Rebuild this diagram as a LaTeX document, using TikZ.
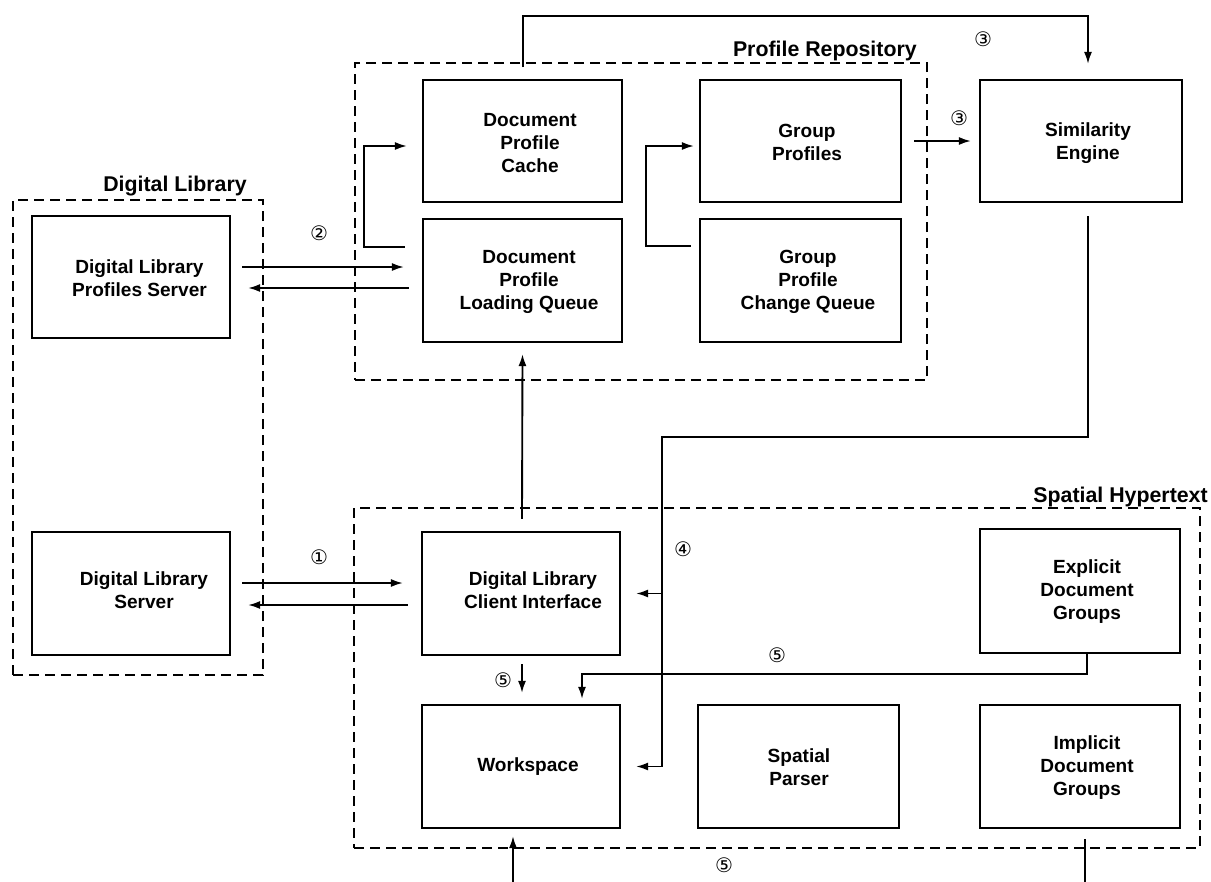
\documentclass[tikz,border=0pt]{standalone}
\usepackage{fontspec}
\setmainfont{Liberation Sans}
\newfontfamily\circfont{DejaVu Sans}
\usetikzlibrary{arrows.meta,calc}
\begin{document}
\begin{tikzpicture}[x=0.75pt,y=-0.75pt,
  px/.style 2 args={minimum width=#1*0.75pt, minimum height=#2*0.75pt},
  box/.style={draw, line width=1.6pt, inner sep=0pt},
  group/.style={draw, line width=1.5pt, dash pattern=on 7.5pt off 4.5pt, inner sep=0pt},
  boxtext/.style={font=\bfseries\fontsize{14.3}{17.25}\selectfont, align=center, inner sep=0pt},
  grouptitle/.style={font=\bfseries\fontsize{16}{19}\selectfont, inner sep=0pt},
  num/.style={font=\circfont\fontsize{15}{17}\selectfont, inner sep=0pt},
  wire/.style={line width=1.4pt},
  arr/.style={wire, -{Latex[length=9pt,width=6pt]}},
]
\fill[white] (0,0) rectangle (1211,882);
\useasboundingbox (0,0) rectangle (1211,882);

% dashed subsystem frames
\node[group, px={250}{475}] (dl) at (138,437.5) {};
\node[group, px={572}{317}] (pr) at (641,221.5) {};
\node[group, px={846}{340}] (sh) at (777,678) {};

\node[grouptitle, anchor=base] (dl-t) at (175,191) {Digital Library};
\node[grouptitle, anchor=base east] (pr-t) at (917,56) {Profile Repository};
\node[grouptitle, anchor=base east] (sh-t) at (1208,502) {Spatial Hypertext};

% components
\node[box, px={198}{122}] (dlps) at (131,277) {};
\node[box, px={198}{123}] (dls) at (131,593.5) {};
\node[box, px={199}{122}] (dpc) at (522.5,141) {};
\node[box, px={199}{123}] (dplq) at (522.5,280.5) {};
\node[box, px={201}{122}] (gp) at (800.5,141) {};
\node[box, px={201}{123}] (gpcq) at (800.5,280.5) {};
\node[box, px={202}{122}] (sim) at (1081,141) {};
\node[box, px={198}{123}] (dlci) at (521,593.5) {};
\node[box, px={198}{123}] (ws) at (521,766.5) {};
\node[box, px={201}{123}] (sp) at (798.5,766.5) {};
\node[box, px={200}{124}] (edg) at (1080,591) {};
\node[box, px={200}{123}] (idg) at (1080,766.5) {};

% component labels
\node[boxtext] (dlps-l) at ([shift={(8.5,1.5)}]dlps.center) {Digital Library\\Profiles Server};
\node[boxtext] (dls-l) at ([shift={(13,-3)}]dls.center) {Digital Library\\Server};
\node[boxtext] (dpc-l) at ([shift={(7.5,2)}]dpc.center) {Document\\Profile\\Cache};
\node[boxtext] (dplq-l) at ([shift={(6.5,1.5)}]dplq.center) {Document\\Profile\\Loading Queue};
\node[boxtext] (gp-l) at ([shift={(6.5,1.5)}]gp.center) {Group\\Profiles};
\node[boxtext] (gpcq-l) at ([shift={(7.5,1.5)}]gpcq.center) {Group\\Profile\\Change Queue};
\node[boxtext] (sim-l) at ([shift={(7,2)}]sim.center) {Similarity\\Engine};
\node[boxtext] (dlci-l) at ([shift={(12,-3.5)}]dlci.center) {Digital Library\\Client Interface};
\node[boxtext] (ws-l) at ([shift={(7,0.5)}]ws.center) {Workspace};
\node[boxtext] (sp-l) at ([shift={(0.5,0.5)}]sp.center) {Spatial\\Parser};
\node[boxtext] (edg-l) at ([shift={(7,1)}]edg.center) {Explicit\\Document\\Groups};
\node[boxtext] (idg-l) at ([shift={(7,1.5)}]idg.center) {Implicit\\Document\\Groups};

% step 1 and 2: library servers <-> client / loading queue
\draw[arr] ([shift={(11,-10)}]dlps.east) -- ([shift={(-18,-13.5)}]dplq.west);
\draw[arr] ([shift={(-13,7.5)}]dplq.west) -- ([shift={(17,11)}]dlps.east);
\draw[arr] ([shift={(11,-10.5)}]dls.east) -- ([shift={(-18,-10.5)}]dlci.west);
\draw[arr] ([shift={(-13,11.5)}]dlci.west) -- ([shift={(17,11.5)}]dls.east);

% client interface feeds the loading queue
\draw[arr] ([shift={(1,-12)}]dlci.north) -- ([shift={(0,11)}]dplq.south);

% queues move into the caches
\coordinate (dq-out) at ([shift={(-17,-33.5)}]dplq.west);
\coordinate (dc-in) at ([shift={(-15,5)}]dpc.west);
\draw[arr] (dq-out) -- ++(-41,0) |- (dc-in);
\coordinate (gq-out) at ([shift={(-8,-34.5)}]gpcq.west);
\coordinate (gc-in) at ([shift={(-5,5)}]gp.west);
\draw[arr] (gq-out) -- ++(-45,0) |- (gc-in);

% step 3: repository -> similarity engine
\coordinate (pr-out) at ([shift={(-118,5)}]pr.north);
\draw[arr] (pr-out) |- ([shift={(7,-63)}]sim.north) -- ([shift={(7,-15)}]sim.north);
\draw[arr, shorten <=9pt, shorten >=6pt] (gp.east) -- (sim.west);

% step 4: similarity engine -> client interface and workspace
\coordinate (j4) at (662,437);
\draw[arr] ([shift={(7,13)}]sim.south) |- (j4) |- ([shift={(15,0)}]ws.east);
\draw[arr] (j4 |- dlci.east) -- ([shift={(15,0)}]dlci.east);

% step 5: into the workspace
\draw[arr] ([shift={(1,8)}]dlci.south) -- ([shift={(1,-11)}]ws.north);
\draw[arr] ([shift={(7,0)}]edg.south) -- ++(0,20) -| ([shift={(61,-5)}]ws.north);
\coordinate (in5) at (513,882);
\draw[arr] (in5) -- ([shift={(-8,7)}]ws.south);
\coordinate (out5) at (1085,882);
\draw[wire] ([shift={(5,10)}]idg.south) -- (out5);

% step numbers
\node[num] (n2) at (319,233) {②};
\node[num] (n1) at (319,557) {①};
\node[num] (n3a) at (983,39) {③};
\node[num] (n3b) at (959,118) {③};
\node[num] (n4) at (683,549) {④};
\node[num] (n5a) at (503,680) {⑤};
\node[num] (n5b) at (777,655) {⑤};
\node[num] (n5c) at (724,865) {⑤};
\end{tikzpicture}
\end{document}
